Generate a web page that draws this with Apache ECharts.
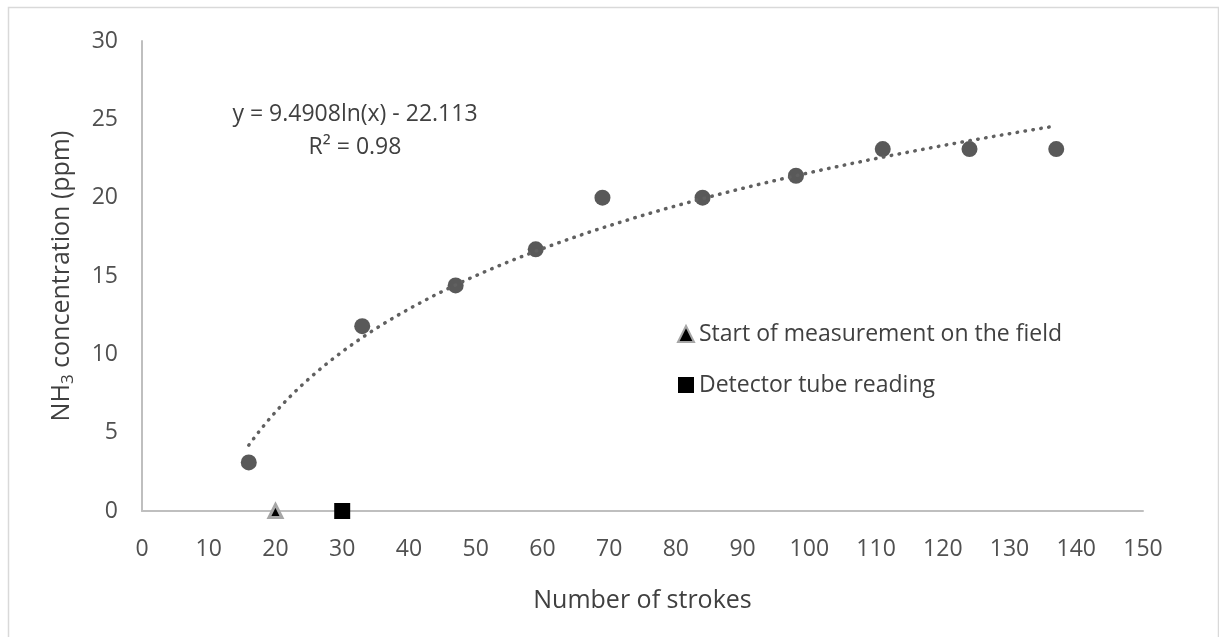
<!DOCTYPE html>
<html>
<head>
<meta charset="utf-8">
<script src="https://cdn.jsdelivr.net/npm/echarts@6/dist/echarts.min.js"></script>
<style>
  html, body { margin: 0; padding: 0; background: #ffffff; }
  #chart { width: 1219px; height: 637px; }
</style>
</head>
<body>
<div id="chart"></div>
<script>
// Pump strokes vs. NH3 concentration
const strokes = [16, 33, 47, 59, 69, 84, 98, 111, 124, 137];
const nh3ppm = [3.1, 11.8, 14.4, 16.7, 20.0, 20.0, 21.4, 23.1, 23.1, 23.1];

// Reference markers on the x axis
const startOfMeasurement = [20, 0];
const detectorTubeReading = [30, 0];

// Logarithmic trendline y = a ln(x) + b, as stated on the chart
const trendSlope = 9.4908;
const trendIntercept = -22.113;
const trendR2 = 0.98;

const xTicks = { min: 0, max: 150, interval: 10 };
const yTicks = { min: 0, max: 30, interval: 5 };

const FONT = '"Open Sans", "Noto Sans", sans-serif';

// Trendline drawn over the range of the measured strokes
const trendPoints = [];
const xStart = Math.min(...strokes), xEnd = Math.max(...strokes);
for (let i = 0; i <= 120; i++) {
  const x = xStart + (xEnd - xStart) * i / 120;
  trendPoints.push([x, trendSlope * Math.log(x) + trendIntercept]);
}

const chart = echarts.init(document.getElementById('chart'), null, { renderer: 'canvas' });

const option = {
  backgroundColor: '#ffffff',
  animation: false,
  textStyle: { fontFamily: FONT },
  grid: { left: 142, right: 76, top: 41, bottom: 126, containLabel: false },
  xAxis: {
    type: 'value',
    min: xTicks.min, max: xTicks.max, interval: xTicks.interval,
    name: 'Number of strokes',
    nameLocation: 'middle',
    nameGap: 77,
    nameTextStyle: { fontSize: 25, color: '#404040', fontFamily: FONT },
    axisLine: { show: true, lineStyle: { color: '#bfbfbf', width: 2 } },
    axisTick: { show: false },
    splitLine: { show: false },
    axisLabel: { fontSize: 23, color: '#505050', margin: 27, fontFamily: FONT }
  },
  yAxis: {
    type: 'value',
    min: yTicks.min, max: yTicks.max, interval: yTicks.interval,
    name: '{a|NH}{s|3}{a| concentration (ppm)}',
    nameLocation: 'middle',
    nameGap: 65,
    nameRotate: 90,
    nameTextStyle: {
      rich: {
        a: { fontSize: 25, lineHeight: 30, color: '#404040', fontFamily: FONT },
        s: { fontSize: 17, lineHeight: 17, verticalAlign: 'bottom', color: '#404040', fontFamily: FONT }
      }
    },
    axisLine: { show: true, lineStyle: { color: '#bfbfbf', width: 2 } },
    axisTick: { show: false },
    splitLine: { show: false },
    axisLabel: { fontSize: 23, color: '#505050', margin: 24, fontFamily: FONT }
  },
  legend: {
    orient: 'vertical',
    left: 672,
    top: 317,
    itemWidth: 16,
    itemHeight: 16,
    itemGap: 27,
    textStyle: { fontSize: 23, lineHeight: 24, color: '#404040', fontFamily: FONT },
    data: [
      { name: 'Start of measurement on the field', icon: 'triangle' },
      { name: 'Detector tube reading', icon: 'rect' }
    ]
  },
  graphic: [
    {
      type: 'rect',
      silent: true,
      shape: { x: 8.5, y: 7.5, width: 1210, height: 640 },
      style: { fill: 'none', stroke: '#d9d9d9', lineWidth: 1.5 },
      z: 0
    },
    {
      type: 'text',
      silent: true,
      x: 355, y: 131,
      style: {
        text: 'y = ' + trendSlope + 'ln(x) - ' + Math.abs(trendIntercept) + '\nR² = ' + trendR2.toFixed(2),
        fontSize: 23,
        lineHeight: 33,
        fontFamily: FONT,
        fill: '#404040',
        align: 'center',
        verticalAlign: 'middle'
      }
    }
  ],
  series: [
    {
      name: 'NH3',
      type: 'scatter',
      data: strokes.map((x, i) => [x, nh3ppm[i]]),
      symbol: 'circle',
      symbolSize: 16,
      itemStyle: { color: '#595959', opacity: 1 },
      z: 2
    },
    {
      name: 'Trend',
      type: 'line',
      data: trendPoints,
      showSymbol: false,
      smooth: false,
      lineStyle: { color: '#606060', width: 3.5, type: [0.5, 7.5], cap: 'round' },
      z: 3
    },
    {
      name: 'Start of measurement on the field',
      type: 'scatter',
      data: [startOfMeasurement],
      symbol: 'triangle',
      symbolSize: 13,
      itemStyle: { color: '#000000', borderColor: '#a6a6a6', borderWidth: 3, opacity: 1 },
      z: 4
    },
    {
      name: 'Detector tube reading',
      type: 'scatter',
      data: [detectorTubeReading],
      symbol: 'rect',
      symbolSize: 16,
      itemStyle: { color: '#000000', opacity: 1 },
      z: 4
    }
  ]
};

chart.setOption(option);
</script>
</body>
</html>
